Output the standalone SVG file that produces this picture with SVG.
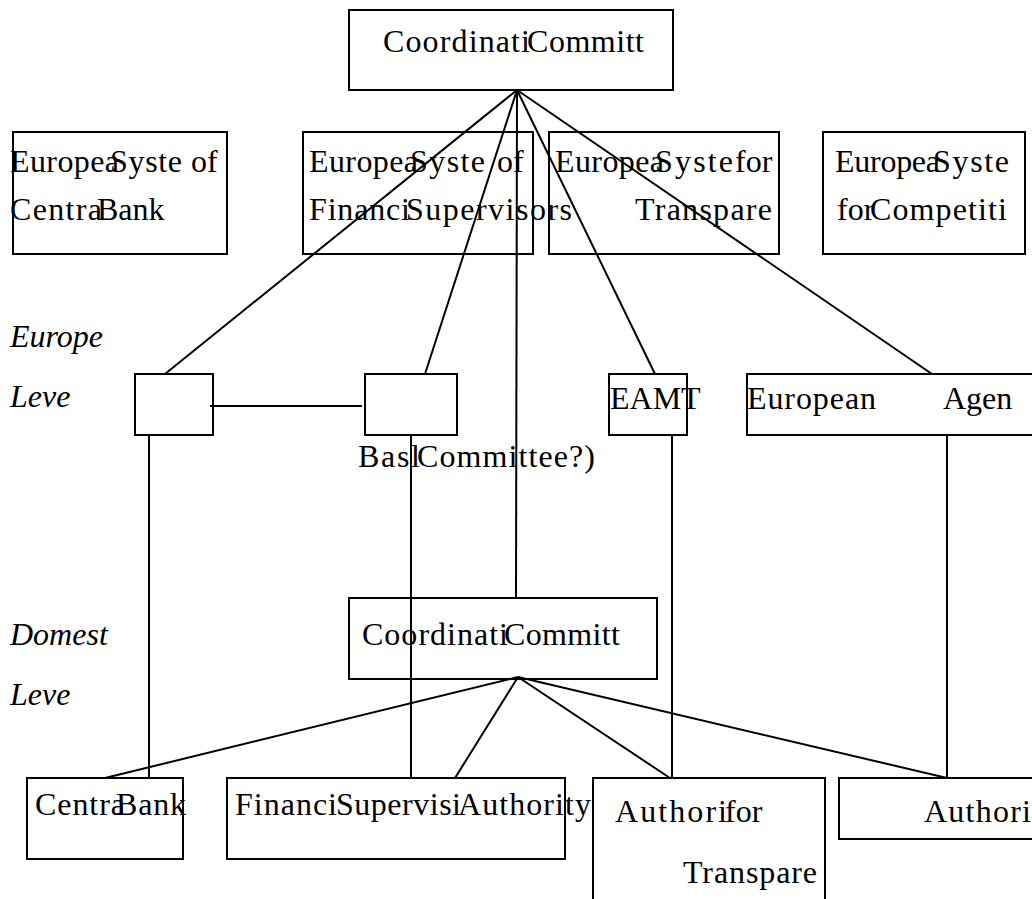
<svg xmlns="http://www.w3.org/2000/svg" width="1032" height="899" viewBox="0 0 1032 899">
<style>
.box{fill:none;stroke:#000;stroke-width:2}
text{font-family:'Liberation Serif','Times New Roman',Times,serif;font-size:32px;fill:#000}
.i{font-style:italic}
.c line{stroke:#000;stroke-width:2;fill:none}
</style>
<rect width="1032" height="899" fill="#fff"/>
<g id="labels">
<text class="i" x="10" y="347">Europe</text>
<text class="i" x="10" y="407">Leve</text>
<text class="i" x="10" y="645">Domest</text>
<text class="i" x="10" y="705">Leve</text>
</g>
<g id="n-top">
<rect class="box" x="349" y="10" width="324" height="80"/>
<text x="383" y="52" textLength="147" lengthAdjust="spacing">Coordinati</text>
<text x="527" y="52" textLength="117" lengthAdjust="spacing">Committ</text>
</g>
<g id="n-escb">
<rect class="box" x="13" y="132" width="214" height="122"/>
<text x="10" y="172" textLength="109" lengthAdjust="spacing">Europea</text>
<text x="110" y="172" textLength="72" lengthAdjust="spacing">Syste</text>
<text x="191" y="172">of</text>
<text x="10" y="220" textLength="92" lengthAdjust="spacing">Centra</text>
<text x="97" y="220">Bank</text>
</g>
<g id="n-esfs">
<rect class="box" x="303" y="132" width="230" height="122"/>
<text x="309" y="172" textLength="109" lengthAdjust="spacing">Europea</text>
<text x="410" y="172" textLength="75" lengthAdjust="spacing">Syste</text>
<text x="497" y="172">of</text>
<text x="309" y="220" textLength="101" lengthAdjust="spacing">Financi</text>
<text x="406" y="220" textLength="166" lengthAdjust="spacing">Supervisors</text>
</g>
<g id="n-est">
<rect class="box" x="549" y="132" width="230" height="122"/>
<text x="555" y="172" textLength="109" lengthAdjust="spacing">Europea</text>
<text x="655" y="172" textLength="78" lengthAdjust="spacing">Syste</text>
<text x="735" y="172">for</text>
<text x="635" y="220" textLength="137" lengthAdjust="spacing">Transpare</text>
</g>
<g id="n-esc">
<rect class="box" x="823" y="132" width="202" height="122"/>
<text x="835" y="172" textLength="105" lengthAdjust="spacing">Europea</text>
<text x="933" y="172" textLength="76" lengthAdjust="spacing">Syste</text>
<text x="837" y="220">for</text>
<text x="870" y="220" textLength="137" lengthAdjust="spacing">Competiti</text>
</g>
<g id="connectors" class="c">
<line x1="517" y1="90" x2="165" y2="374"/>
<line x1="517" y1="90" x2="425" y2="374"/>
<line x1="517" y1="90" x2="516" y2="598"/>
<line x1="517" y1="90" x2="655" y2="374"/>
<line x1="517" y1="90" x2="932" y2="374"/>
<line x1="210" y1="406" x2="362" y2="406"/>
<line x1="149" y1="434" x2="149" y2="778"/>
<line x1="411" y1="434" x2="411" y2="778"/>
<line x1="672" y1="434" x2="672" y2="778"/>
<line x1="947" y1="434" x2="947" y2="778"/>
<line x1="518" y1="677" x2="105" y2="778"/>
<line x1="518" y1="677" x2="455" y2="778"/>
<line x1="518" y1="677" x2="670" y2="778"/>
<line x1="518" y1="677" x2="947" y2="778"/>
</g>
<g id="n-ecb">
<rect class="box" x="135" y="374" width="78" height="61"/>
</g>
<g id="n-esa">
<rect class="box" x="365" y="374" width="92" height="61"/>
<text x="358" y="467" textLength="62" lengthAdjust="spacing">Basl</text>
<text x="417" y="467" textLength="178" lengthAdjust="spacing">Committee?)</text>
</g>
<g id="n-eamt">
<rect class="box" x="609" y="374" width="78" height="61"/>
<text x="610" y="409">EAMT</text>
</g>
<g id="n-agency">
<rect class="box" x="747" y="374" width="320" height="61"/>
<text x="747" y="409" textLength="129" lengthAdjust="spacing">European</text>
<text x="943" y="409">Agen</text>
</g>
<g id="n-dcoord">
<rect class="box" x="349" y="598" width="308" height="81"/>
<text x="362" y="645" textLength="146" lengthAdjust="spacing">Coordinati</text>
<text x="504" y="645" textLength="116" lengthAdjust="spacing">Committ</text>
</g>
<g id="n-cb">
<rect class="box" x="27" y="778" width="156" height="81"/>
<text x="35" y="815" textLength="90" lengthAdjust="spacing">Centra</text>
<text x="116" y="815" textLength="70" lengthAdjust="spacing">Bank</text>
</g>
<g id="n-fsa">
<rect class="box" x="227" y="778" width="338" height="81"/>
<text x="235" y="815" textLength="102" lengthAdjust="spacing">Financi</text>
<text x="336" y="815" textLength="125" lengthAdjust="spacing">Supervisi</text>
<text x="458" y="815" textLength="133" lengthAdjust="spacing">Authority</text>
</g>
<g id="n-at">
<rect class="box" x="593" y="778" width="232" height="200"/>
<text x="615" y="822" textLength="112" lengthAdjust="spacing">Authori</text>
<text x="725" y="822">for</text>
<text x="683" y="883" textLength="134" lengthAdjust="spacing">Transpare</text>
</g>
<g id="n-auth">
<rect class="box" x="839" y="778" width="230" height="61"/>
<text x="924" y="822" textLength="107" lengthAdjust="spacing">Authori</text>
</g>
</svg>
